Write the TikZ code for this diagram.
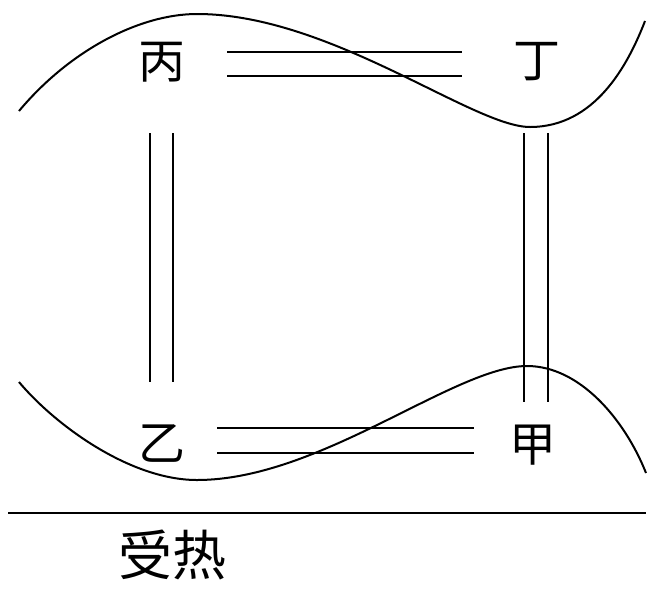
\documentclass[tikz,border=0pt]{standalone}
\usepackage{fontspec}
\newfontfamily\cjk{Noto Sans CJK SC}
\begin{document}
\begin{tikzpicture}[x=1pt,y=-1pt,
  lbl/.style={font=\cjk\fontsize{47}{47}\selectfont, inner sep=0pt},
  pipe/.style={line width=2.4pt},
  wave/.style={line width=2pt}]
\useasboundingbox (0,0) rectangle (660,590);
% labels
\node[lbl] (bing) at (162,62) {丙};
\node[lbl] (ding) at (537,62) {丁};
\node[lbl] (yi) at (162,444) {乙};
\node[lbl] (jia) at (533,445) {甲};
\node[font=\cjk\fontsize{54}{54}\selectfont, inner sep=0pt] (shou) at (172,555) {受热};
% top pair
\coordinate (t1a) at (227,52); \coordinate (t1b) at (462,52);
\coordinate (t2a) at (227,76); \coordinate (t2b) at (462,76);
\draw[pipe] (t1a) -- (t1b); \draw[pipe] (t2a) -- (t2b);
% bottom pair
\coordinate (b1a) at (217,428); \coordinate (b1b) at (474,428);
\coordinate (b2a) at (217,453); \coordinate (b2b) at (474,453);
\draw[pipe] (b1a) -- (b1b); \draw[pipe] (b2a) -- (b2b);
% left pair
\coordinate (l1a) at (150,133); \coordinate (l1b) at (150,382);
\coordinate (l2a) at (173,133); \coordinate (l2b) at (173,382);
\draw[pipe] (l1a) -- (l1b); \draw[pipe] (l2a) -- (l2b);
% right pair
\coordinate (r1a) at (524,133); \coordinate (r1b) at (524,402);
\coordinate (r2a) at (548,133); \coordinate (r2b) at (548,402);
\draw[pipe] (r1a) -- (r1b); \draw[pipe] (r2a) -- (r2b);
% top wave
\draw[wave] (19,111) .. controls (70,50) and (140,14) .. (197,14)
  .. controls (330,14) and (473,127) .. (530,127)
  .. controls (595,127) and (628,65) .. (645,21);
% bottom wave
\draw[wave] (19,382) .. controls (55,425) and (130,480) .. (197,480)
  .. controls (320,480) and (455,366) .. (527,366)
  .. controls (580,366) and (625,420) .. (646,473);
% base line
\coordinate (g1) at (8,513); \coordinate (g2) at (646,513);
\draw[pipe] (g1) -- (g2);
\end{tikzpicture}
\end{document}
